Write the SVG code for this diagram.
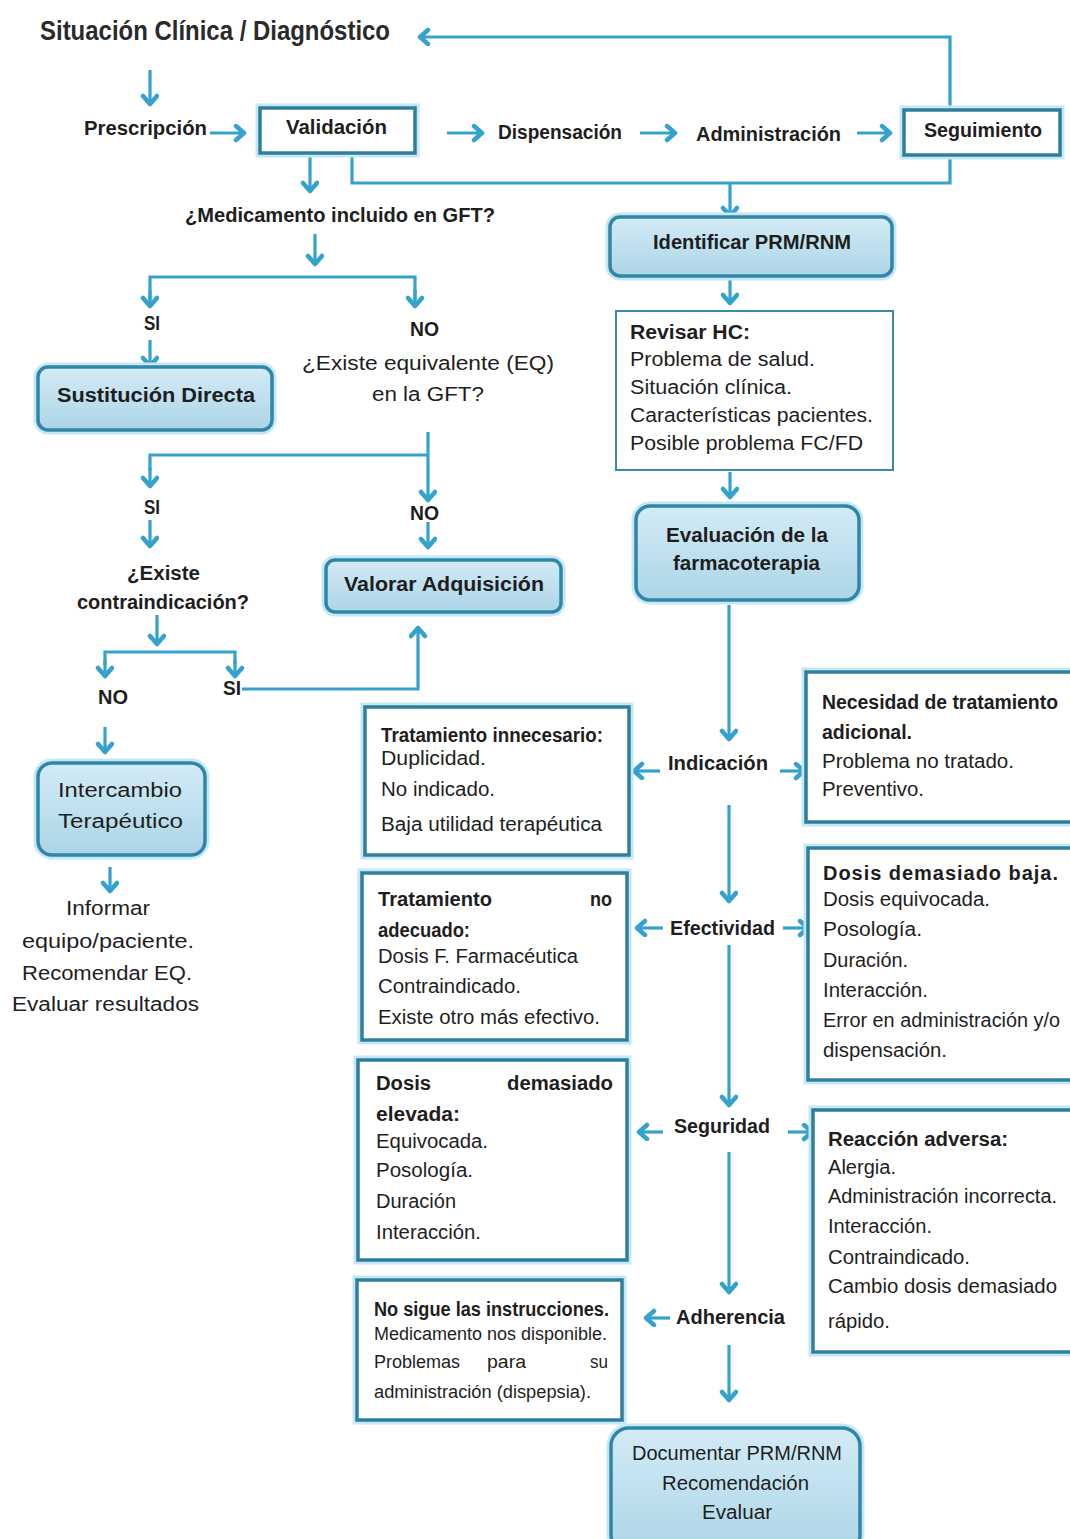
<svg xmlns="http://www.w3.org/2000/svg" width="1070" height="1539" viewBox="0 0 1070 1539">
<defs>
<linearGradient id="fillG" x1="0" y1="0" x2="0" y2="1">
<stop offset="0" stop-color="#d3ebf5"/>
<stop offset="1" stop-color="#acd5e7"/>
</linearGradient>
<marker id="ah" markerUnits="userSpaceOnUse" markerWidth="20" markerHeight="20" refX="12" refY="9" orient="auto">
<path d="M4,2 L12,9 L4,16" fill="none" stroke="#34a2cc" stroke-width="4.5" stroke-linecap="round" stroke-linejoin="round"/>
</marker>
<style>
text{font-family:"Liberation Sans Narrow","Liberation Sans",Arial,sans-serif;fill:#1e1e1e;}
.t{font-size:20px;}
.b{font-size:20px;font-weight:bold;}
.s{font-size:18px;}
.title{font-size:27px;font-weight:bold;fill:#2a2a2a;}
.glow{fill:none;stroke:#c4e8f4;stroke-width:9;}
.box{fill:#ffffff;stroke:#2f7f9c;stroke-width:3.5;}
.rbox{fill:url(#fillG);stroke:#2f86a6;stroke-width:3.5;}
.thin{fill:#ffffff;stroke:#3a8aa8;stroke-width:2;}
.ln{fill:none;stroke:#34a2cc;stroke-width:3.2;}
.ar{fill:none;stroke:#34a2cc;stroke-width:3.2;marker-end:url(#ah);}
</style>
</defs>
<rect width="1070" height="1539" fill="#ffffff"/>

<g id="connectors">
<path class="ar" d="M950,110 V37 H420"/>
<path class="ar" d="M150,70 V104"/>
<path class="ar" d="M210,133 H244"/>
<path class="ar" d="M447,133 H482"/>
<path class="ar" d="M640,133 H675"/>
<path class="ar" d="M857,133 H890"/>
<path class="ar" d="M310,154 V191"/>
<path class="ln" d="M352,154 V183 H950 V157"/>
<path class="ar" d="M730,183 V216"/>
<path class="ar" d="M315,234 V264"/>
<path class="ln" d="M150,300 V277 H415 V300"/>
<path class="ar" d="M150,290 V306"/>
<path class="ar" d="M415,290 V306"/>
<path class="ar" d="M150,340 V366"/>
<path class="ar" d="M428,432 V500"/>
<path class="ln" d="M428,455 H150 V470"/>
<path class="ar" d="M150,468 V486"/>
<path class="ar" d="M150,520 V546"/>
<path class="ar" d="M428,522 V547"/>
<path class="ar" d="M157,615 V644"/>
<path class="ln" d="M105,665 V652 H235 V665"/>
<path class="ar" d="M105,660 V676"/>
<path class="ar" d="M235,660 V676"/>
<path class="ar" d="M242,689 H418 V628"/>
<path class="ar" d="M105,727 V752"/>
<path class="ar" d="M110,867 V891"/>
<path class="ar" d="M730,278 V303"/>
<path class="ar" d="M730,472 V497"/>
<path class="ar" d="M729,605 V739"/>
<path class="ar" d="M660,771 H634"/>
<path class="ar" d="M780,771 H804"/>
<path class="ar" d="M729,805 V901"/>
<path class="ar" d="M663,928 H637"/>
<path class="ar" d="M783,928 H808"/>
<path class="ar" d="M729,945 V1105"/>
<path class="ar" d="M663,1132 H639"/>
<path class="ar" d="M788,1132 H812"/>
<path class="ar" d="M729,1152 V1292"/>
<path class="ar" d="M670,1318 H646"/>
<path class="ar" d="M729,1345 V1400"/>
</g>

<g id="n-title"><text class="title" x="40" y="40" textLength="350" lengthAdjust="spacingAndGlyphs">Situación Clínica / Diagnóstico</text></g>
<g id="n-prescripcion"><text class="b" x="84" y="135" textLength="123" lengthAdjust="spacingAndGlyphs">Prescripción</text></g>
<g id="n-validacion">
<rect class="glow" x="260" y="108" width="155" height="45"/>
<rect class="box" x="260" y="108" width="155" height="45"/>
<text class="b" x="286" y="134" textLength="101" lengthAdjust="spacingAndGlyphs">Validación</text></g>
<g id="n-dispensacion"><text class="b" x="498" y="139" textLength="124" lengthAdjust="spacingAndGlyphs">Dispensación</text></g>
<g id="n-administracion"><text class="b" x="696" y="141" textLength="145" lengthAdjust="spacingAndGlyphs">Administración</text></g>
<g id="n-seguimiento">
<rect class="glow" x="904" y="110" width="156" height="45"/>
<rect class="box" x="904" y="110" width="156" height="45"/>
<text class="b" x="924" y="137" textLength="118" lengthAdjust="spacingAndGlyphs">Seguimiento</text></g>
<g id="n-gft"><text class="b" x="185" y="222" textLength="310" lengthAdjust="spacingAndGlyphs">¿Medicamento incluido en GFT?</text></g>

<g id="n-si1"><text class="b" x="144" y="330" textLength="16" lengthAdjust="spacingAndGlyphs">SI</text></g>
<g id="n-no1"><text class="b" x="410" y="336" textLength="29" lengthAdjust="spacingAndGlyphs">NO</text></g>
<g id="n-sustitucion">
<rect class="glow" x="38" y="367" width="234" height="63" rx="10"/>
<rect class="rbox" x="38" y="367" width="234" height="63" rx="10"/>
<text class="b" x="57" y="402" textLength="198" lengthAdjust="spacingAndGlyphs">Sustitución Directa</text></g>
<g id="n-equivalente">
<text class="t" x="302" y="370" font-size="22" textLength="252" lengthAdjust="spacingAndGlyphs">¿Existe equivalente (EQ)</text>
<text class="t" x="372" y="401" font-size="22" textLength="112" lengthAdjust="spacingAndGlyphs">en la GFT?</text></g>
<g id="n-si2"><text class="b" x="144" y="514" textLength="16" lengthAdjust="spacingAndGlyphs">SI</text></g>
<g id="n-no2"><text class="b" x="410" y="520" textLength="29" lengthAdjust="spacingAndGlyphs">NO</text></g>
<g id="n-valorar">
<rect class="glow" x="326" y="560" width="235" height="52" rx="9"/>
<rect class="rbox" x="326" y="560" width="235" height="52" rx="9"/>
<text class="b" x="344" y="591" textLength="200" lengthAdjust="spacingAndGlyphs">Valorar Adquisición</text></g>
<g id="n-contra">
<text class="b" x="127" y="580" textLength="73" lengthAdjust="spacingAndGlyphs">¿Existe</text>
<text class="b" x="77" y="609" textLength="172" lengthAdjust="spacingAndGlyphs">contraindicación?</text></g>
<g id="n-no3"><text class="b" x="98" y="704" textLength="30" lengthAdjust="spacingAndGlyphs">NO</text></g>
<g id="n-si3"><text class="b" x="223" y="695" textLength="18" lengthAdjust="spacingAndGlyphs">SI</text></g>
<g id="n-intercambio">
<rect class="glow" x="38" y="763" width="167" height="92" rx="14"/>
<rect class="rbox" x="38" y="763" width="167" height="92" rx="14"/>
<text class="t" x="58" y="797" font-size="23" textLength="124" lengthAdjust="spacingAndGlyphs">Intercambio</text>
<text class="t" x="58" y="828" font-size="23" textLength="125" lengthAdjust="spacingAndGlyphs">Terapéutico</text></g>
<g id="n-informar">
<text class="t" x="66" y="915" font-size="22" textLength="84" lengthAdjust="spacingAndGlyphs">Informar</text>
<text class="t" x="22" y="948" font-size="22" textLength="172" lengthAdjust="spacingAndGlyphs">equipo/paciente.</text>
<text class="t" x="22" y="980" font-size="22" textLength="170" lengthAdjust="spacingAndGlyphs">Recomendar EQ.</text>
<text class="t" x="12" y="1011" font-size="22" textLength="187" lengthAdjust="spacingAndGlyphs">Evaluar resultados</text></g>

<g id="n-identificar">
<rect class="glow" x="610" y="217" width="282" height="59" rx="10"/>
<rect class="rbox" x="610" y="217" width="282" height="59" rx="10"/>
<text class="b" x="653" y="249" textLength="198" lengthAdjust="spacingAndGlyphs">Identificar PRM/RNM</text></g>
<g id="n-revisar">
<rect class="thin" x="616" y="311" width="277" height="159"/>
<text class="b" x="630" y="339" textLength="120" lengthAdjust="spacingAndGlyphs">Revisar HC:</text>
<text class="t" x="630" y="366" textLength="185" lengthAdjust="spacingAndGlyphs">Problema de salud.</text>
<text class="t" x="630" y="394" textLength="162" lengthAdjust="spacingAndGlyphs">Situación clínica.</text>
<text class="t" x="630" y="422" textLength="243" lengthAdjust="spacingAndGlyphs">Características pacientes.</text>
<text class="t" x="630" y="450" textLength="233" lengthAdjust="spacingAndGlyphs">Posible problema FC/FD</text></g>
<g id="n-evaluacion">
<rect class="glow" x="636" y="506" width="223" height="94" rx="14"/>
<rect class="rbox" x="636" y="506" width="223" height="94" rx="14"/>
<text class="b" x="666" y="542" textLength="162" lengthAdjust="spacingAndGlyphs">Evaluación de la</text>
<text class="b" x="673" y="570" textLength="147" lengthAdjust="spacingAndGlyphs">farmacoterapia</text></g>
<g id="n-indicacion"><text class="b" x="668" y="770" textLength="100" lengthAdjust="spacingAndGlyphs">Indicación</text></g>
<g id="n-efectividad"><text class="b" x="670" y="935" textLength="105" lengthAdjust="spacingAndGlyphs">Efectividad</text></g>
<g id="n-seguridad"><text class="b" x="674" y="1133" textLength="96" lengthAdjust="spacingAndGlyphs">Seguridad</text></g>
<g id="n-adherencia"><text class="b" x="676" y="1324" textLength="109" lengthAdjust="spacingAndGlyphs">Adherencia</text></g>
<g id="n-documentar">
<rect class="glow" x="611" y="1428" width="249" height="125" rx="18"/>
<rect class="rbox" x="611" y="1428" width="249" height="125" rx="18"/>
<text class="t" x="632" y="1460" textLength="210" lengthAdjust="spacingAndGlyphs">Documentar PRM/RNM</text>
<text class="t" x="662" y="1490" textLength="147" lengthAdjust="spacingAndGlyphs">Recomendación</text>
<text class="t" x="702" y="1519" textLength="70" lengthAdjust="spacingAndGlyphs">Evaluar</text></g>

<g id="n-innecesario">
<rect class="glow" x="365" y="707" width="264" height="148"/>
<rect class="box" x="365" y="707" width="264" height="148"/>
<text class="b" x="381" y="742" textLength="222" lengthAdjust="spacingAndGlyphs">Tratamiento innecesario:</text>
<text class="t" x="381" y="765" textLength="105" lengthAdjust="spacingAndGlyphs">Duplicidad.</text>
<text class="t" x="381" y="796" textLength="114" lengthAdjust="spacingAndGlyphs">No indicado.</text>
<text class="t" x="381" y="831" textLength="221" lengthAdjust="spacingAndGlyphs">Baja utilidad terapéutica</text></g>
<g id="n-noadecuado">
<rect class="glow" x="362" y="873" width="265" height="167"/>
<rect class="box" x="362" y="873" width="265" height="167"/>
<text class="b" x="378" y="906" textLength="114" lengthAdjust="spacingAndGlyphs">Tratamiento</text>
<text class="b" x="590" y="906" textLength="22" lengthAdjust="spacingAndGlyphs">no</text>
<text class="b" x="378" y="937" textLength="92" lengthAdjust="spacingAndGlyphs">adecuado:</text>
<text class="t" x="378" y="963" textLength="200" lengthAdjust="spacingAndGlyphs">Dosis F. Farmacéutica</text>
<text class="t" x="378" y="993" textLength="143" lengthAdjust="spacingAndGlyphs">Contraindicado.</text>
<text class="t" x="378" y="1024" textLength="222" lengthAdjust="spacingAndGlyphs">Existe otro más efectivo.</text></g>
<g id="n-elevada">
<rect class="glow" x="358" y="1060" width="269" height="200"/>
<rect class="box" x="358" y="1060" width="269" height="200"/>
<text class="b" x="376" y="1090" textLength="55" lengthAdjust="spacingAndGlyphs">Dosis</text>
<text class="b" x="507" y="1090" textLength="106" lengthAdjust="spacingAndGlyphs">demasiado</text>
<text class="b" x="376" y="1121" textLength="84" lengthAdjust="spacingAndGlyphs">elevada:</text>
<text class="t" x="376" y="1148" textLength="112" lengthAdjust="spacingAndGlyphs">Equivocada.</text>
<text class="t" x="376" y="1177" textLength="97" lengthAdjust="spacingAndGlyphs">Posología.</text>
<text class="t" x="376" y="1208" textLength="80" lengthAdjust="spacingAndGlyphs">Duración</text>
<text class="t" x="376" y="1239" textLength="105" lengthAdjust="spacingAndGlyphs">Interacción.</text></g>
<g id="n-nosigue">
<rect class="glow" x="357" y="1280" width="265" height="140"/>
<rect class="box" x="357" y="1280" width="265" height="140"/>
<text class="b" x="374" y="1316" textLength="235" lengthAdjust="spacingAndGlyphs">No sigue las instrucciones.</text>
<text class="s" x="374" y="1340" textLength="233" lengthAdjust="spacingAndGlyphs">Medicamento nos disponible.</text>
<text class="s" x="374" y="1368" textLength="86" lengthAdjust="spacingAndGlyphs">Problemas</text>
<text class="s" x="487" y="1368" textLength="39" lengthAdjust="spacingAndGlyphs">para</text>
<text class="s" x="590" y="1368" textLength="18" lengthAdjust="spacingAndGlyphs">su</text>
<text class="s" x="374" y="1398" textLength="217" lengthAdjust="spacingAndGlyphs">administración (dispepsia).</text></g>

<g id="n-necesidad">
<rect class="glow" x="806" y="672" width="270" height="150"/>
<rect class="box" x="806" y="672" width="270" height="150"/>
<text class="b" x="822" y="709" textLength="236" lengthAdjust="spacingAndGlyphs">Necesidad de tratamiento</text>
<text class="b" x="822" y="739" textLength="90" lengthAdjust="spacingAndGlyphs">adicional.</text>
<text class="t" x="822" y="768" textLength="192" lengthAdjust="spacingAndGlyphs">Problema no tratado.</text>
<text class="t" x="822" y="796" textLength="102" lengthAdjust="spacingAndGlyphs">Preventivo.</text></g>
<g id="n-baja">
<rect class="glow" x="808" y="848" width="268" height="232"/>
<rect class="box" x="808" y="848" width="268" height="232"/>
<text class="b" x="823" y="880" textLength="235" lengthAdjust="spacing">Dosis demasiado baja.</text>
<text class="t" x="823" y="906" textLength="167" lengthAdjust="spacingAndGlyphs">Dosis equivocada.</text>
<text class="t" x="823" y="936" textLength="99" lengthAdjust="spacingAndGlyphs">Posología.</text>
<text class="t" x="823" y="967" textLength="85" lengthAdjust="spacingAndGlyphs">Duración.</text>
<text class="t" x="823" y="997" textLength="105" lengthAdjust="spacingAndGlyphs">Interacción.</text>
<text class="t" x="823" y="1027" textLength="237" lengthAdjust="spacingAndGlyphs">Error en administración y/o</text>
<text class="t" x="823" y="1057" textLength="124" lengthAdjust="spacingAndGlyphs">dispensación.</text></g>
<g id="n-reaccion">
<rect class="glow" x="813" y="1110" width="263" height="242"/>
<rect class="box" x="813" y="1110" width="263" height="242"/>
<text class="b" x="828" y="1146" textLength="180" lengthAdjust="spacingAndGlyphs">Reacción adversa:</text>
<text class="t" x="828" y="1174" textLength="68" lengthAdjust="spacingAndGlyphs">Alergia.</text>
<text class="t" x="828" y="1203" textLength="229" lengthAdjust="spacingAndGlyphs">Administración incorrecta.</text>
<text class="t" x="828" y="1233" textLength="104" lengthAdjust="spacingAndGlyphs">Interacción.</text>
<text class="t" x="828" y="1264" textLength="142" lengthAdjust="spacingAndGlyphs">Contraindicado.</text>
<text class="t" x="828" y="1293" textLength="229" lengthAdjust="spacingAndGlyphs">Cambio dosis demasiado</text>
<text class="t" x="828" y="1328" textLength="62" lengthAdjust="spacingAndGlyphs">rápido.</text></g>
</svg>
